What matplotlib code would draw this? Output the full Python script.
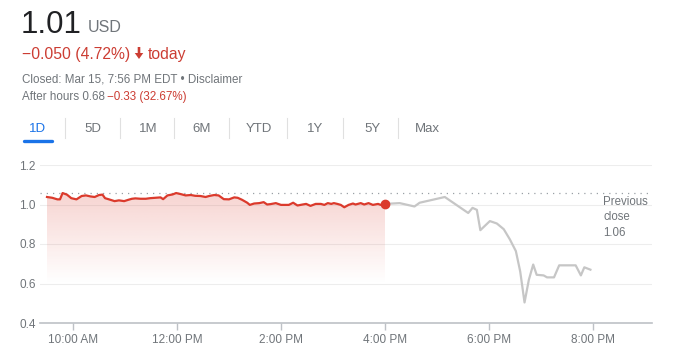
import matplotlib
matplotlib.use("Agg")
import matplotlib.pyplot as plt
from matplotlib.lines import Line2D
from matplotlib.patches import FancyArrow
import numpy as np

plt.rcParams['font.family'] = ['Liberation Sans', 'DejaVu Sans']

# regular session, 9:30 AM - 4:00 PM
market_times = [
    "9:30", "9:36", "9:42", "9:45", "9:48", "9:53", "9:58", "10:04", "10:10", "10:15",
    "10:20", "10:25", "10:30", "10:34", "10:37", "10:43", "10:48", "10:53", "10:59", "11:04",
    "11:08", "11:12", "11:18", "11:24", "11:29", "11:35", "11:41", "11:44", "11:49", "11:55",
    "11:59", "12:04", "12:10", "12:16", "12:21", "12:27", "12:33", "12:37", "12:43", "12:48",
    "12:54", "13:00", "13:06", "13:10", "13:15", "13:21", "13:24", "13:29", "13:35", "13:40",
    "13:44", "13:48", "13:54", "14:00", "14:05", "14:09", "14:14", "14:19", "14:25", "14:29",
    "14:34", "14:40", "14:46", "14:50", "14:54", "14:58", "15:01", "15:05", "15:09", "15:13",
    "15:18", "15:23", "15:26", "15:32", "15:36", "15:41", "15:46", "15:52", "15:55", "16:00",
]
market_prices = [
    1.038, 1.034, 1.026, 1.026, 1.058, 1.050, 1.032, 1.026, 1.043, 1.046,
    1.041, 1.038, 1.048, 1.050, 1.032, 1.024, 1.017, 1.021, 1.017, 1.024,
    1.029, 1.031, 1.029, 1.029, 1.032, 1.034, 1.036, 1.027, 1.046, 1.051,
    1.058, 1.053, 1.046, 1.048, 1.044, 1.043, 1.038, 1.043, 1.048, 1.046,
    1.027, 1.026, 1.036, 1.034, 1.024, 1.009, 0.998, 1.005, 1.007, 1.012,
    1.000, 1.002, 1.007, 0.998, 0.998, 0.998, 1.009, 0.995, 1.000, 1.003,
    0.993, 1.003, 1.003, 0.998, 1.007, 1.003, 1.007, 1.003, 0.998, 0.986,
    0.998, 1.005, 1.000, 1.007, 1.000, 1.007, 0.998, 1.003, 0.998, 1.003,
]

# after hours, 4:00 PM - 7:57 PM
after_times = [
    "16:00", "16:17", "16:34", "16:40", "17:09", "17:36", "17:41", "17:46", "17:50", "18:01",
    "18:09", "18:17", "18:24", "18:31", "18:36", "18:41", "18:46", "18:51", "18:55", "19:03",
    "19:07", "19:15", "19:21", "19:40", "19:46", "19:50", "19:57",
]
after_prices = [
    1.003, 1.007, 0.990, 1.009, 1.038, 0.957, 0.983, 0.973, 0.870, 0.916,
    0.904, 0.875, 0.824, 0.764, 0.661, 0.504, 0.619, 0.696, 0.644, 0.641,
    0.631, 0.631, 0.692, 0.692, 0.641, 0.682, 0.670,
]

prev_close = 1.06
y_ticks = [0.4, 0.6, 0.8, 1.0, 1.2]
x_ticks = ["10:00", "12:00", "14:00", "16:00", "18:00", "20:00"]
x_tick_labels = ["10:00 AM", "12:00 PM", "2:00 PM", "4:00 PM", "6:00 PM", "8:00 PM"]
tabs = ["1D", "5D", "1M", "6M", "YTD", "1Y", "5Y", "Max"]
tab_x = [38, 93, 148, 202, 259, 315, 372, 427]
tab_sep_x = [65, 120, 174, 229, 287, 343, 398]

RED = "#db3a2c"
RED_TXT = "#cc3d33"
GRAY_TXT = "#70757a"
W, H = 680, 349


def to_hours(t):
    h, m = t.split(":")
    return int(h) + int(m) / 60


def px(x, y):
    return x / W, 1 - y / H


mt = np.array([to_hours(t) for t in market_times])
mp = np.array(market_prices)
at = np.array([to_hours(t) for t in after_times])
ap = np.array(after_prices)

fig = plt.figure(figsize=(W / 100, H / 100), dpi=100)
fig.patch.set_facecolor("white")

# header
fig.text(*px(21, 33), "1.01", fontsize=22.5, color="#202124", va="baseline")
fig.text(*px(88, 32), "USD", fontsize=11.5, color=GRAY_TXT, va="baseline")
fig.text(*px(22, 59), "\u22120.050 (4.72%)", fontsize=11.3, color=RED_TXT, va="baseline")
# bold down arrow (pixel coords, origin bottom-left)
fig.add_artist(FancyArrow(139, H - 47, 0, -12, width=2.6, head_width=8.5,
                          head_length=6, length_includes_head=True,
                          color=RED_TXT, lw=0, transform=None))
fig.text(*px(148, 59), "today", fontsize=11.3, color=RED_TXT, va="baseline")
fig.text(*px(22, 83), "Closed: Mar 15, 7:56 PM EDT \u2022 Disclaimer", fontsize=8.4,
         color=GRAY_TXT, va="baseline")
fig.text(*px(22, 100), "After hours 0.68", fontsize=8.4, color=GRAY_TXT, va="baseline")
fig.text(*px(107, 100), "\u22120.33 (32.67%)", fontsize=8.4, color=RED_TXT, va="baseline")

# range tabs
for label, x in zip(tabs, tab_x):
    fig.text(*px(x, 132), label, fontsize=9.5, ha="center", va="baseline",
             color="#1a73e8" if label == "1D" else GRAY_TXT)
for x in tab_sep_x:
    fig.add_artist(Line2D([x / W, x / W], [1 - 118 / H, 1 - 138 / H],
                          color="#e0e0e0", lw=0.8))
fig.add_artist(Line2D([24 / W, 52 / W], [1 - 140.5 / H, 1 - 140.5 / H],
                      color="#1a73e8", lw=2.4, solid_capstyle="round"))

# chart
ax = fig.add_axes([40 / W, 26 / H, 612 / W, 158 / H])
x0 = 16 - 345 / 52
x1 = 16 + 267 / 52
ax.set_xlim(x0, x1)
ax.set_ylim(0.4, 1.2)

for y in y_ticks[1:]:
    ax.axhline(y, color="#ededed", lw=0.8, zorder=0)

# gradient fill under the regular session line
poly = ax.fill_between(mt, mp, 0.4, color="none", lw=0)
grad = np.zeros((200, 2, 4))
rgb = matplotlib.colors.to_rgb(RED)
grad[..., 0], grad[..., 1], grad[..., 2] = rgb
levels = np.linspace(1.1, 0.4, 200)
alpha = np.clip((levels - 0.6) / (1.06 - 0.6), 0, 1) * 0.22
grad[..., 3] = alpha[:, None]
img = ax.imshow(grad, extent=[mt[0], mt[-1], 0.4, 1.1], aspect="auto",
                origin="upper", zorder=1)
img.set_clip_path(poly.get_paths()[0], transform=ax.transData)

ax.axhline(prev_close, color="#9aa0a6", lw=0.9, ls=(0, (1, 4)), zorder=2)
ax.plot(at, ap, color="#c6c6c6", lw=1.6, zorder=3, solid_joinstyle="round")
ax.plot(mt, mp, color=RED, lw=1.6, zorder=4, solid_joinstyle="round")
ax.plot(mt[-1:], mp[-1:], "o", color=RED, ms=6, zorder=5)

ax.text(20.2, prev_close - 0.017, "Previous\nclose\n1.06", fontsize=8.3,
        color=GRAY_TXT, va="top", linespacing=1.38)

ax.set_yticks(y_ticks)
ax.set_yticklabels([f"{v:.1f}" for v in y_ticks])
ax.set_xticks([to_hours(t) for t in x_ticks])
ax.set_xticklabels(x_tick_labels)
ax.tick_params(axis="y", length=0, pad=3, labelsize=8.5, labelcolor=GRAY_TXT)
ax.tick_params(axis="x", length=5, width=1, color="#bdc1c6", pad=3,
               labelsize=8.5, labelcolor=GRAY_TXT)
for side in ["top", "right", "left"]:
    ax.spines[side].set_visible(False)
ax.spines["bottom"].set_color("#bdc1c6")
ax.spines["bottom"].set_linewidth(1.2)

fig.savefig("out.png", dpi=100, facecolor="white")
